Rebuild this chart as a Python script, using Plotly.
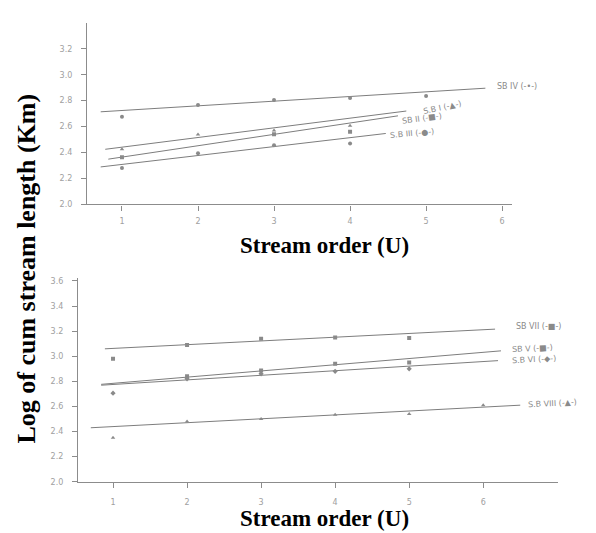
import plotly.graph_objects as go

# ---------------- data ----------------
orders = [1, 2, 3, 4, 5, 6]

# top panel observed points (None = no point)
sb1_pts = [2.425, 2.539, 2.57, 2.607, None, None]
sb2_pts = [2.364, None, 2.54, 2.56, None, None]
sb3_pts = [2.28, 2.395, 2.456, 2.47, None, None]
sb4_pts = [2.676, 2.767, 2.805, 2.82, 2.835, None]

# top panel fitted lines (start/end)
sb1_fit_x = [0.78, 4.74]
sb1_fit_y = [2.425, 2.72]
sb2_fit_x = [0.82, 4.63]
sb2_fit_y = [2.349, 2.683]
sb3_fit_x = [0.72, 4.47]
sb3_fit_y = [2.289, 2.547]
sb4_fit_x = [0.72, 5.78]
sb4_fit_y = [2.714, 2.896]

# bottom panel observed points
sb5_pts = [None, 2.84, 2.886, 2.94, 2.95, None]
sb6_pts = [2.706, 2.82, 2.86, 2.88, 2.90, None]
sb7_pts = [2.98, 3.09, 3.14, 3.15, 3.145, None]
sb8_pts = [2.35, 2.48, 2.50, 2.533, 2.54, 2.61]

# bottom panel fitted lines
sb5_fit_x = [0.84, 6.24]
sb5_fit_y = [2.776, 3.043]
sb6_fit_x = [0.84, 6.20]
sb6_fit_y = [2.769, 2.965]
sb7_fit_x = [0.89, 6.16]
sb7_fit_y = [3.059, 3.216]
sb8_fit_x = [0.70, 6.50]
sb8_fit_y = [2.43, 2.61]

top_yticks = [2.0, 2.2, 2.4, 2.6, 2.8, 3.0, 3.2]
bot_yticks = [2.0, 2.2, 2.4, 2.6, 2.8, 3.0, 3.2, 3.4, 3.6]
xticks = [1, 2, 3, 4, 5, 6]

LINE = "#7d7d7d"
MARK = "#8a8a8a"
TXT = "#8a8a8a"

fig = go.Figure()

def add_fit(x, y, xa, ya):
    fig.add_trace(go.Scatter(x=x, y=y, mode="lines", xaxis=xa, yaxis=ya,
                             line=dict(color=LINE, width=1), showlegend=False,
                             hoverinfo="skip"))

def add_pts(y, sym, xa, ya):
    fig.add_trace(go.Scatter(x=orders, y=y, mode="markers", xaxis=xa, yaxis=ya,
                             marker=dict(symbol=sym, size=4, color=MARK),
                             showlegend=False))

add_fit(sb1_fit_x, sb1_fit_y, "x", "y")
add_fit(sb2_fit_x, sb2_fit_y, "x", "y")
add_fit(sb3_fit_x, sb3_fit_y, "x", "y")
add_fit(sb4_fit_x, sb4_fit_y, "x", "y")
add_pts(sb1_pts, "triangle-up", "x", "y")
add_pts(sb2_pts, "square", "x", "y")
add_pts(sb3_pts, "circle", "x", "y")
add_pts(sb4_pts, "circle", "x", "y")

add_fit(sb5_fit_x, sb5_fit_y, "x2", "y2")
add_fit(sb6_fit_x, sb6_fit_y, "x2", "y2")
add_fit(sb7_fit_x, sb7_fit_y, "x2", "y2")
add_fit(sb8_fit_x, sb8_fit_y, "x2", "y2")
add_pts(sb5_pts, "square", "x2", "y2")
add_pts(sb6_pts, "diamond", "x2", "y2")
add_pts(sb7_pts, "square", "x2", "y2")
add_pts(sb8_pts, "triangle-up", "x2", "y2")

axis_common = dict(showgrid=False, zeroline=False, showline=True,
                   linecolor="#8c8c8c", linewidth=1.2, ticks="outside",
                   tickcolor="#8c8c8c", ticklen=5, tickwidth=1,
                   tickfont=dict(size=8, color="#a0a0a0", family="DejaVu Sans"))

fig.update_layout(
    width=596, height=533, autosize=False,
    margin=dict(l=0, r=0, t=0, b=0),
    paper_bgcolor="white", plot_bgcolor="white",
    xaxis=dict(domain=[79/596, 504/596], range=[0.54, 6.13], anchor="y",
               tickvals=xticks, ticktext=[str(v) for v in xticks],
               ticklabelstandoff=4, **axis_common),
    yaxis=dict(domain=[336/533, 520/533], range=[2.0, 3.4], anchor="x",
               tickvals=top_yticks, ticktext=[f"{v:.1f}" for v in top_yticks],
               ticklabelstandoff=7, **axis_common),
    xaxis2=dict(domain=[70/596, 550/596], range=[0.527, 7.01], anchor="y2",
                tickvals=xticks, ticktext=[str(v) for v in xticks],
                ticklabelstandoff=8, **axis_common),
    yaxis2=dict(domain=[55/533, 261/533], range=[2.0, 3.62], anchor="x2",
                tickvals=bot_yticks, ticktext=[f"{v:.1f}" for v in bot_yticks],
                ticklabelstandoff=7, **axis_common),
)

XT_FONT = dict(family="Liberation Serif", size=23, color="black")
YT_FONT = dict(family="Liberation Serif", size=26, color="black")

annos = [
    dict(text="<b>Stream order (U)</b>", x=316/596, y=1-239/533, xref="paper", yref="paper",
         showarrow=False, font=XT_FONT, xanchor="center", yanchor="middle"),
    dict(text="<b>Stream order (U)</b>", x=316/596, y=1-515/533, xref="paper", yref="paper",
         showarrow=False, font=XT_FONT, xanchor="center", yanchor="middle"),
    dict(text="<b>Log of cum stream length (Km)</b>", x=19/596, y=1-262/533, xref="paper",
         yref="paper", showarrow=False, font=YT_FONT, textangle=-90,
         xanchor="center", yanchor="middle"),
]

LBL = dict(size=8, color=TXT, family="DejaVu Sans")
series_labels = [
    ("SB IV (-•-)", 5.91, 2.911, "x", "y", 0),
    ("S.B I (-▲-)", 4.92, 2.745, "x", "y", -12),
    ("SB II (-■-)", 4.65, 2.66, "x", "y", -8),
    ("S.B III (-●-)", 4.49, 2.547, "x", "y", -5),
    ("SB VII (-■-)", 6.41, 3.239, "x2", "y2", 0),
    ("SB V (-■-)", 6.36, 3.059, "x2", "y2", -3),
    ("S.B VI (-◆-)", 6.36, 2.973, "x2", "y2", -3),
    ("S.B VIII (-▲-)", 6.57, 2.62, "x2", "y2", -3),
]
for t, x, y, xr, yr, ang in series_labels:
    annos.append(dict(text=t, x=x, y=y, xref=xr, yref=yr, showarrow=False,
                      font=LBL, xanchor="left", yanchor="middle", textangle=ang))

fig.update_layout(annotations=annos)

fig.write_html("out.html")
